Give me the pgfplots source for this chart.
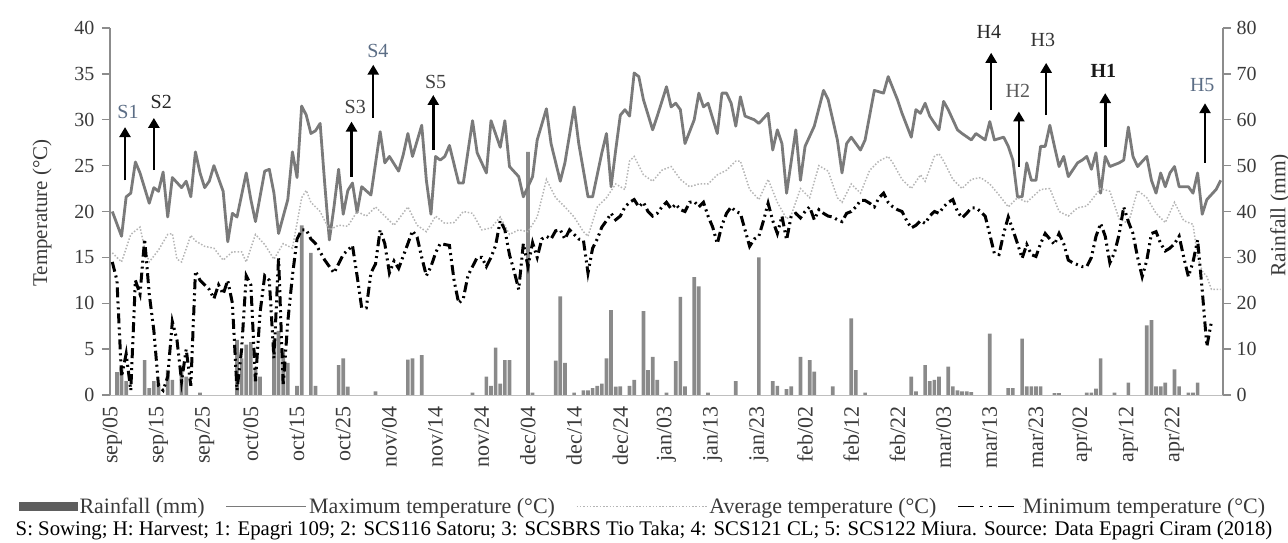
\documentclass[border=0pt]{standalone}
\usepackage{pgfplots}
\pgfplotsset{compat=1.18}
\usepackage{pgfplotstable}
\usepackage{fontspec}
\setmainfont{Liberation Serif}
\usetikzlibrary{arrows.meta}
\definecolor{maxc}{HTML}{7A7A7A}
\definecolor{avgc}{HTML}{B5B5B5}
\definecolor{rainc}{HTML}{8A8A8A}
\definecolor{raindark}{HTML}{5E5E5E}
\definecolor{axc}{HTML}{8C8C8C}
\definecolor{txt}{HTML}{3A3A3A}
\definecolor{bluegray}{HTML}{5B6D85}

\pgfplotstableread{
d t
0 20.0
2 17.3
3 21.6
4 22.0
5 25.4
6 24.2
8 20.9
9 22.6
10 22.2
11 24.3
12 19.4
13 23.7
15 22.6
16 23.3
17 21.6
18 26.5
19 24.2
20 22.6
21 23.3
22 25.0
24 22.2
25 16.7
26 19.8
27 19.4
29 24.2
30 21.3
31 18.9
33 24.4
34 24.6
35 22.0
36 17.6
38 21.3
39 26.5
40 23.7
41 31.5
42 30.5
43 28.5
44 28.8
45 29.6
46 23.0
47 16.9
48 20.5
49 24.6
50 19.7
51 22.3
52 23.1
53 19.9
54 22.7
56 21.8
58 28.7
59 25.3
60 26.0
62 24.4
63 26.2
64 28.5
65 26.0
67 29.4
68 23.4
69 19.7
70 26.0
71 25.6
72 26.0
73 27.2
75 23.1
76 23.1
78 29.9
79 26.4
81 24.2
82 29.9
84 27.0
85 29.9
86 24.9
88 23.8
89 21.6
91 23.8
92 27.8
94 31.2
95 27.4
97 23.3
98 25.3
100 31.4
101 27.4
103 21.6
104 21.6
106 26.4
107 28.5
108 22.7
109 26.7
110 30.5
111 31.1
112 30.4
113 35.1
114 34.7
115 32.2
117 28.9
118 30.4
120 33.6
121 31.4
122 31.8
123 31.1
124 27.4
126 30.0
127 32.9
128 31.4
129 31.8
131 28.5
132 32.9
133 32.9
134 31.8
135 29.3
136 32.5
137 30.4
139 30.0
140 29.6
142 30.7
143 26.7
144 28.9
145 27.4
146 22.0
148 28.9
149 23.4
150 27.1
152 29.3
154 33.2
155 32.2
157 27.8
158 24.2
159 27.4
160 28.1
162 26.7
163 27.8
165 33.2
167 32.9
168 34.7
170 32.2
171 30.7
173 28.1
174 31.1
175 30.7
176 31.8
177 30.4
179 28.9
180 32.0
181 31.1
183 28.9
184 28.5
186 27.8
187 28.5
189 27.8
190 29.8
191 27.8
193 28.1
194 27.1
195 25.6
196 21.6
197 21.6
198 25.3
199 23.4
200 23.4
201 27.1
202 27.1
203 29.4
204 27.1
205 24.9
206 26.0
207 23.8
209 25.3
210 25.6
211 26.0
212 24.6
213 26.4
214 22.0
215 26.0
216 24.9
218 25.3
219 25.6
220 29.2
221 26.0
222 24.9
224 26.0
225 23.4
226 22.0
227 24.2
228 22.7
229 24.2
230 24.9
231 22.7
233 22.7
234 22.0
235 24.2
236 19.7
237 21.3
239 22.4
240 23.4
}\maxdata

\pgfplotstableread{
d t
0 15.5
2 14.5
4 17.5
6 18.3
7 16.0
8 14.5
10 15.8
12 17.5
13 17.6
14 14.8
15 14.5
17 17.4
18 16.8
20 16.2
22 16.0
24 14.7
26 15.6
28 15.6
29 14.5
31 17.5
33 16.4
35 14.8
37 16.5
39 16.0
41 21.5
42 22.3
43 21.0
45 20.0
47 18.0
49 18.5
51 18.4
53 20.0
55 19.5
57 20.5
59 19.5
61 18.5
64 20.5
66 18.5
68 17.8
70 19.5
72 18.7
74 18.8
76 20.0
78 19.8
80 18.0
82 18.2
84 19.4
86 17.5
88 18.0
90 17.8
92 19.4
94 23.5
95 22.5
96 21.5
98 20.5
100 19.4
102 17.8
103 17.3
105 20.5
107 21.5
109 23.0
111 22.4
112 25.5
113 26.0
115 24.0
117 23.3
119 24.5
121 24.9
123 23.5
125 22.7
127 23.0
129 23.0
131 24.0
133 24.5
135 25.5
136 25.5
138 22.4
140 21.3
142 23.5
144 21.0
146 19.2
147 19.6
149 22.5
151 21.5
153 25.0
155 24.4
157 21.5
158 21.0
160 23.0
162 22.0
164 24.5
166 25.5
168 26.0
169 25.3
171 23.5
173 22.5
175 24.0
176 23.3
178 26.0
179 26.3
180 25.5
182 23.5
184 22.5
186 23.5
188 23.7
190 23.0
192 21.8
194 20.5
196 21.5
198 21.0
201 22.4
203 22.5
205 20.0
207 19.5
209 20.4
211 20.6
214 22.5
216 22.2
218 19.2
220 18.7
222 22.3
224 21.5
226 19.8
228 18.8
230 21.0
232 19.0
234 18.6
235 15.0
236 13.5
237 12.9
238 11.5
240 11.5
}\avgdata

\pgfplotstableread{
d t
0 14.5
1 12.5
2 2.0
3 4.5
4 0.5
5 12.5
6 11.0
7 17.0
8 11.0
9 7.0
10 1.0
11 0.5
12 2.0
13 8.0
14 6.0
15 1.5
16 5.0
17 1.0
18 13.5
19 12.5
20 12.0
21 11.5
22 10.5
23 12.0
24 11.0
25 12.5
26 10.0
27 0.5
28 5.0
29 13.0
30 12.0
31 1.5
32 9.0
33 13.0
34 12.5
35 4.0
36 15.0
37 1.0
38 8.0
39 13.0
40 17.0
41 18.0
42 18.0
43 17.0
44 16.5
46 14.7
48 13.3
50 15.3
52 16.3
53 13.0
54 9.5
55 9.5
56 13.3
57 14.3
58 18.0
59 16.5
60 13.3
61 14.6
62 13.8
64 16.5
65 17.9
66 17.2
67 15.0
68 13.0
69 14.0
70 15.5
71 16.5
73 16.3
74 12.5
75 10.0
76 10.5
77 13.0
78 14.0
79 15.0
80 15.0
81 14.0
82 15.0
83 16.3
84 19.0
85 18.0
86 15.3
87 13.5
88 11.5
89 16.5
90 14.0
91 16.6
92 15.0
93 17.0
94 17.3
95 17.0
96 17.9
97 18.0
98 17.0
99 18.0
100 17.5
101 17.0
102 16.9
103 13.3
104 16.0
105 17.0
106 18.3
107 19.0
108 19.8
109 19.1
110 19.5
111 20.5
112 21.0
113 21.3
114 20.5
115 21.0
116 20.0
117 19.5
118 19.8
119 20.5
120 21.0
121 20.3
122 20.8
123 20.2
124 20.0
125 21.0
126 21.1
127 20.5
128 21.0
129 19.5
130 18.3
131 16.5
132 18.5
133 19.8
134 20.5
135 20.0
136 19.8
137 18.0
138 16.2
139 17.0
140 17.3
141 19.0
142 20.9
143 19.0
144 17.6
145 19.5
146 16.9
147 19.5
148 19.8
149 19.3
150 20.0
151 20.5
152 19.1
153 20.2
154 19.8
155 19.5
156 19.4
157 19.1
158 18.9
159 19.8
160 20.0
161 20.5
162 21.2
163 21.2
164 20.9
165 20.5
166 21.5
167 22.0
168 21.0
169 20.5
170 20.2
171 20.0
172 19.0
173 18.2
174 18.5
175 19.0
176 18.7
177 19.5
178 20.0
179 19.8
180 20.5
181 21.0
182 21.3
183 20.0
184 19.3
185 19.8
186 20.4
187 20.4
188 20.0
189 19.5
190 17.5
191 15.4
192 15.3
193 17.6
194 19.4
195 18.0
196 16.5
197 14.9
198 16.4
199 15.3
200 15.1
201 16.5
202 17.6
203 17.0
204 16.4
205 17.6
206 16.5
207 14.7
208 14.4
209 14.2
210 14.0
211 14.0
212 15.0
213 17.3
214 18.7
215 17.3
216 14.4
217 15.5
218 17.5
219 20.5
220 18.9
221 17.6
222 15.0
223 12.9
224 14.7
225 17.6
226 17.8
227 16.5
228 15.7
229 16.0
230 16.5
231 17.3
232 15.0
233 12.9
234 14.5
235 16.9
236 11.4
237 5.3
238 8.0
}\mindata

\pgfplotstableread{
d r
1 5
2 6
3 3
7 7.6
8 1.5
9 3
10 2.5
12 5.5
13 3.3
15 6
16 4
19 0.5
27 12
28 8
29 11
30 11.5
31 6
32 4
35 12
36 14
37 10
38 7
40 2
41 37
43 31
44 2
49 6.5
50 8
51 1.8
57 0.8
64 7.7
65 8
67 8.7
78 0.5
81 4
82 2
83 10.3
84 2.5
85 7.6
86 7.6
90 53
91 0.5
96 7.5
97 21.5
98 7
100 0.5
102 1
103 1
104 1.5
105 2
106 2.5
107 8
108 18.5
109 1.8
110 1.9
112 2
113 3.3
115 18.3
116 5.4
117 8.3
118 3.3
120 0.5
122 7.4
123 21.4
124 1.9
126 25.7
127 23.7
129 0.5
135 3
140 30
143 3
144 2
146 1.3
147 1.9
149 8.3
151 7.6
152 5.1
156 1.9
160 16.7
161 5.4
163 0.5
173 4
174 0.8
176 6.5
177 3
178 3.3
179 4
181 6.2
182 1.9
183 1
184 0.8
185 0.8
186 0.6
190 13.4
194 1.5
195 1.5
197 12.3
198 1.9
199 1.9
200 1.9
201 1.9
204 0.4
205 0.4
211 0.5
212 0.5
213 1.4
214 8
217 0.5
220 2.7
224 15.2
225 16.3
226 1.9
227 1.9
228 2.7
230 5.6
231 1.9
233 0.5
234 0.5
235 2.7
}\raindata

\begin{document}
\begin{tikzpicture}
\useasboundingbox (-110bp,-148bp) rectangle (1178bp,395bp);

% rainfall (right axis)
\begin{axis}[
  scale only axis, width=1113bp, height=367bp,
  xmin=-0.5, xmax=240.5, ymin=0, ymax=80,
  axis x line=none, axis y line*=right,
  y axis line style={draw=axc, line width=1.4bp, -},
  ytick={0,10,...,80},
  ytick style={draw=axc, line width=1.4bp},
  tick align=outside, major tick length=8bp,
  /pgf/number format/assume math mode=true,
  yticklabel style={font=\fontsize{20bp}{22bp}\selectfont, text=txt, xshift=2bp},
  ylabel={Rainfall (mm)},
  every axis y label/.style={at={(axis description cs:1.0512,0.49)}, rotate=90, anchor=center, font=\fontsize{21.5bp}{24bp}\selectfont, text=txt},
]
\addplot[ybar, bar width=0.8, bar shift=0pt, fill=rainc, draw=none] table[x=d, y=r] {\raindata};
\end{axis}

% temperatures (left axis)
\begin{axis}[
  scale only axis, width=1113bp, height=367bp,
  xmin=-0.5, xmax=240.5, ymin=0, ymax=40,
  axis x line*=bottom, axis y line*=left,
  x axis line style={draw=black!25, line width=1bp, -},
  y axis line style={draw=axc, line width=1.4bp, -},
  xtick={0,10,...,230},
  xticklabels={sep/05,sep/15,sep/25,oct/05,oct/15,oct/25,nov/04,nov/14,nov/24,dec/04,dec/14,dec/24,jan/03,jan/13,jan/23,feb/02,feb/12,feb/22,mar/03,mar/13,mar/23,apr/02,apr/12,apr/22},
  xtick style={draw=none},
  xticklabel style={rotate=90, anchor=east, font=\fontsize{22bp}{24bp}\selectfont, text=txt},
  ytick={0,5,...,40},
  ytick style={draw=axc, line width=1.4bp},
  tick align=outside, major tick length=8bp,
  /pgf/number format/assume math mode=true,
  yticklabel style={font=\fontsize{20bp}{22bp}\selectfont, text=txt, xshift=-4bp},
  ylabel={Temperature (°C)},
  every axis y label/.style={at={(axis description cs:-0.0611,0.496)}, rotate=90, anchor=center, font=\fontsize{21bp}{24bp}\selectfont, text=txt},
  clip=false,
  legend columns=-1,
  legend style={at={(axis description cs:0.479,-0.304)}, anchor=center, draw=none, fill=none,
    font=\fontsize{22bp}{24bp}\selectfont, text=txt,
    /tikz/every even column/.append style={column sep=19bp}},
]
\addlegendimage{legend image code/.code={\fill[raindark] (0bp,-4bp) rectangle (58bp,4bp);}}
\addlegendentry{Rainfall (mm)}
\addplot[maxc, line width=2.8bp, line join=round, legend image code/.code={\draw[maxc, line width=1.4bp] (0bp,0bp) -- (80bp,0bp);}] table[x=d, y=t] {\maxdata};
\addlegendentry{Maximum temperature (°C)}
\addplot[avgc, line width=1.5bp, dash pattern=on 1.5bp off 1.8bp, legend image code/.code={\draw[avgc, line width=1.4bp, dash pattern=on 1.5bp off 1.8bp] (0bp,0bp) -- (130bp,0bp);}] table[x=d, y=t] {\avgdata};
\addlegendentry{Average temperature (°C)}
\addplot[black, line width=3bp, dash pattern=on 10bp off 4bp on 2bp off 4bp on 2bp off 4bp, legend image code/.code={\draw[black, line width=1.6bp, dash pattern=on 16bp off 6bp on 3bp off 6bp on 3bp off 6bp] (0bp,0bp) -- (62bp,0bp);}] table[x=d, y=t] {\mindata};
\addlegendentry{Minimum temperature (°C)}

% sowing / harvest annotations
\begin{scope}[line width=2.5bp, -{Triangle[width=11bp,length=10bp]}]
\draw (axis cs:2.75,23.4) -- (axis cs:2.75,29.2);
\draw (axis cs:9.0,24.5) -- (axis cs:9.0,30.2);
\draw (axis cs:51.8,23.8) -- (axis cs:51.8,29.8);
\draw (axis cs:56.5,30.2) -- (axis cs:56.5,36.0);
\draw (axis cs:69.5,26.7) -- (axis cs:69.5,32.7);
\draw (axis cs:190.3,31.1) -- (axis cs:190.3,37.3);
\draw (axis cs:196.3,24.9) -- (axis cs:196.3,30.9);
\draw (axis cs:202.2,30.5) -- (axis cs:202.2,36.2);
\draw (axis cs:215.0,27.0) -- (axis cs:215.0,32.9);
\draw (axis cs:236.6,25.3) -- (axis cs:236.6,31.8);
\end{scope}
\begin{scope}[every node/.style={font=\fontsize{20bp}{22bp}\selectfont, inner sep=0pt}]
\node[text=bluegray] at (axis cs:3.4,30.8) {S1};
\node[text=black!85] at (axis cs:10.6,31.9) {S2};
\node[text=black!75] at (axis cs:52.6,31.4) {S3};
\node[text=bluegray] at (axis cs:57.5,37.5) {S4};
\node[text=black!75] at (axis cs:70.0,34.1) {S5};
\node[text=black!85] at (axis cs:189.8,39.6) {H4};
\node[text=black!65] at (axis cs:196.1,33.2) {H2};
\node[text=black!80] at (axis cs:201.5,38.7) {H3};
\node[text=black!90] at (axis cs:214.6,35.3) {\textbf{H1}};
\node[text=bluegray] at (axis cs:236.0,33.8) {H5};
\end{scope}
\end{axis}

\node[font=\fontsize{20.8bp}{23bp}\selectfont, anchor=center, text=black] at (534bp,-136bp) {S: Sowing; H: Harvest; 1: Epagri 109; 2: SCS116 Satoru; 3: SCSBRS Tio Taka; 4: SCS121 CL; 5: SCS122 Miura. Source: Data Epagri Ciram (2018)};
\end{tikzpicture}
\end{document}
